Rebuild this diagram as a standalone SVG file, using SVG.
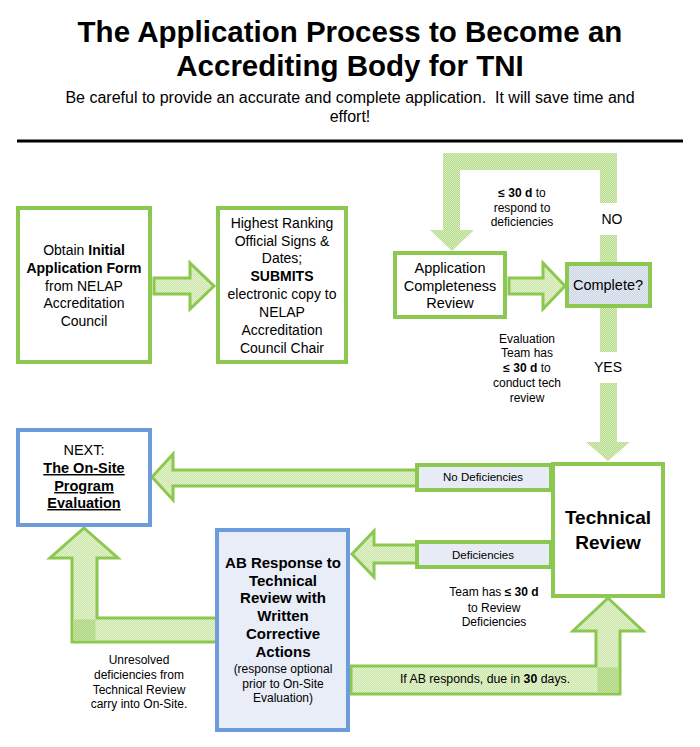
<svg xmlns="http://www.w3.org/2000/svg" width="700" height="747" viewBox="0 0 700 747">
<defs>
<pattern id="hatch" width="2" height="2" patternUnits="userSpaceOnUse"><rect width="2" height="2" fill="#CAE6A6"/><rect width="1" height="1" fill="#E4F2D1"/><rect x="1" y="1" width="1" height="1" fill="#E4F2D1"/></pattern>
<pattern id="band" width="2" height="2" patternUnits="userSpaceOnUse"><rect width="2" height="2" fill="#B4DA86"/><rect width="1" height="1" fill="#D9EEC2"/><rect x="1" y="1" width="1" height="1" fill="#D9EEC2"/></pattern>
<pattern id="corner" width="2" height="2" patternUnits="userSpaceOnUse"><rect width="2" height="2" fill="#A9D47A"/><rect width="1" height="1" fill="#C8E5A6"/><rect x="1" y="1" width="1" height="1" fill="#C8E5A6"/></pattern>
<pattern id="grey" width="2" height="2" patternUnits="userSpaceOnUse"><rect width="2" height="2" fill="#CED8E5"/><rect width="1" height="1" fill="#E2E8F1"/><rect x="1" y="1" width="1" height="1" fill="#E2E8F1"/></pattern>
</defs>
<style>
text{font-family:"Liberation Sans",Arial,sans-serif;fill:#000;text-anchor:middle}
.t14{font-size:14px}
.t12{font-size:12px}
.b{font-weight:bold}
.gbox{fill:#fff;stroke:#8CC84F;stroke-width:4}
.bbox{stroke:#6E9BDA;stroke-width:4}
.lbl{fill:#E6EBF6;stroke:#8CC84F;stroke-width:4}
.arrow{fill:url(#hatch);stroke:#8CC84F;stroke-width:3;stroke-linejoin:miter}
.band{fill:url(#band)}
</style>
<rect width="700" height="747" fill="#fff"/>
<g id="title">
<text x="350" y="42" class="b" style="font-size:29.5px">The Application Process to Become an</text>
<text x="350" y="76" class="b" style="font-size:29.5px">Accrediting Body for TNI</text>
<text x="350" y="103" style="font-size:16px">Be careful to provide an accurate and complete application.&#160; It will save time and</text>
<text x="350" y="122" style="font-size:16px">effort!</text>
<line x1="17" y1="141" x2="683" y2="141" stroke="#000" stroke-width="3"/>
</g>
<g id="connectors">
<rect x="600" y="153" width="17" height="50" class="band"/>
<rect x="443" y="153" width="174" height="17" class="band"/>
<rect x="443" y="170" width="17" height="61" class="band"/>
<polygon points="430,230 474,230 452,251" class="band"/>
<rect x="600" y="235" width="17" height="29" class="band"/>
<rect x="600" y="306" width="17" height="46" class="band"/>
<rect x="600" y="383" width="17" height="60" class="band"/>
<polygon points="586,442 630,442 608,461" class="band"/>
<polygon points="154,278 190,278 190,263 214,286 190,309 190,294 154,294" class="arrow"/>
<polygon points="509,278 543,278 543,263 565,286 543,309 543,294 509,294" class="arrow"/>
<polygon points="152,477 173,454 173,470 417,470 417,486 173,486 173,500" class="arrow"/>
<polygon points="352,554 374,531 374,545 417,545 417,563 374,563 374,577" class="arrow"/>
<polygon points="84,528 118,558 97,558 97,618 217,618 217,642 72,642 72,558 50,558" class="arrow"/>
<rect x="73.5" y="619.5" width="22" height="21" fill="url(#corner)"/>
<polygon points="351,666 596,666 596,631 573,631 608,598 643,631 620,631 620,694 351,694" class="arrow"/>
<rect x="597.5" y="667.5" width="21" height="25" fill="url(#corner)"/>
<text x="522" y="197" class="t12"><tspan class="b">≤ 30 d</tspan> to</text>
<text x="522" y="212" class="t12">respond to</text>
<text x="522" y="226" class="t12">deficiencies</text>
<text x="612" y="224" class="t14">NO</text>
<text x="527" y="343" class="t12">Evaluation</text>
<text x="527" y="357" class="t12">Team has</text>
<text x="527" y="372" class="t12"><tspan class="b">≤ 30 d</tspan> to</text>
<text x="527" y="387" class="t12">conduct tech</text>
<text x="527" y="402" class="t12">review</text>
<text x="608" y="372" class="t14">YES</text>
<g id="label-nodef"><rect x="417" y="465" width="134" height="25" class="lbl"/><text x="483" y="481" style="font-size:11.5px">No Deficiencies</text></g>
<g id="label-def"><rect x="417" y="542" width="134" height="25" class="lbl"/><text x="483" y="559" style="font-size:11.5px">Deficiencies</text></g>
<text x="494" y="596" class="t12">Team has <tspan class="b">≤ 30 d</tspan></text>
<text x="494" y="612" class="t12">to Review</text>
<text x="494" y="626" class="t12">Deficiencies</text>
<text x="485" y="683" style="font-size:12.3px">If AB responds, due in <tspan class="b">30</tspan> days.</text>
<text x="139" y="664" class="t12">Unresolved</text>
<text x="139" y="679" class="t12">deficiencies from</text>
<text x="139" y="694" class="t12">Technical Review</text>
<text x="139" y="708" class="t12">carry into On-Site.</text>
</g>
<g id="obtain">
<rect x="18" y="208" width="132" height="154" class="gbox"/>
<text x="84" y="255" class="t14">Obtain <tspan class="b">Initial</tspan></text>
<text x="84" y="273" class="t14 b">Application Form</text>
<text x="84" y="291" class="t14">from NELAP</text>
<text x="84" y="308" class="t14">Accreditation</text>
<text x="84" y="326" class="t14">Council</text>
</g>
<g id="submit">
<rect x="218" y="208" width="128" height="154" class="gbox"/>
<text x="282" y="228" class="t14">Highest Ranking</text>
<text x="282" y="246" class="t14">Official Signs &amp;</text>
<text x="282" y="263" class="t14">Dates;</text>
<text x="282" y="281" class="t14 b">SUBMITS</text>
<text x="282" y="299" class="t14">electronic copy to</text>
<text x="282" y="317" class="t14">NELAP</text>
<text x="282" y="335" class="t14">Accreditation</text>
<text x="282" y="353" class="t14">Council Chair</text>
</g>
<g id="completeness">
<rect x="395" y="253" width="110" height="64" class="gbox"/>
<text x="450" y="273" style="font-size:14.5px">Application</text>
<text x="450" y="291" style="font-size:14.5px">Completeness</text>
<text x="450" y="308" style="font-size:14.5px">Review</text>
</g>
<g id="complete">
<rect x="567" y="264" width="83" height="42" fill="url(#grey)" stroke="#8CC84F" stroke-width="4"/>
<text x="608" y="290" style="font-size:14.5px">Complete?</text>
</g>
<g id="technical">
<rect x="553" y="464" width="110" height="132" class="gbox"/>
<text x="608" y="524" class="b" style="font-size:19px">Technical</text>
<text x="608" y="549" class="b" style="font-size:19px">Review</text>
</g>
<g id="next">
<rect x="18" y="430" width="132" height="95" fill="#fff" class="bbox"/>
<text x="84" y="455" style="font-size:14.5px">NEXT:</text>
<text x="84" y="473" class="b" style="font-size:14.5px;text-decoration:underline">The On-Site</text>
<text x="84" y="491" class="b" style="font-size:14.5px;text-decoration:underline">Program</text>
<text x="84" y="508" class="b" style="font-size:14.5px;text-decoration:underline">Evaluation</text>
</g>
<g id="ab-response">
<rect x="217" y="530" width="131" height="200" fill="#E8EDF7" class="bbox"/>
<text x="283" y="568" class="b" style="font-size:15px">AB Response to</text>
<text x="283" y="586" class="b" style="font-size:15px">Technical</text>
<text x="283" y="603" class="b" style="font-size:15px">Review with</text>
<text x="283" y="621" class="b" style="font-size:15px">Written</text>
<text x="283" y="639" class="b" style="font-size:15px">Corrective</text>
<text x="283" y="657" class="b" style="font-size:15px">Actions</text>
<text x="283" y="673" class="t12">(response optional</text>
<text x="283" y="688" class="t12">prior to On-Site</text>
<text x="283" y="702" class="t12">Evaluation)</text>
</g>
</svg>
